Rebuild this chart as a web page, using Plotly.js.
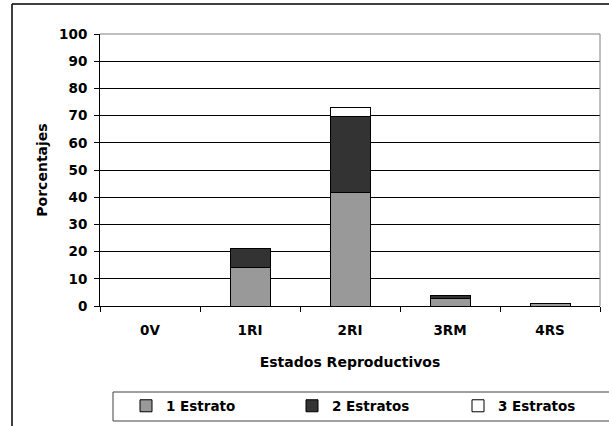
<!DOCTYPE html>
<html>
<head>
<meta charset="utf-8">
<script src="https://cdn.plot.ly/plotly-3.0.1.min.js"></script>
<style>
  html, body { margin: 0; padding: 0; background: #ffffff; }
  #chart { width: 609px; height: 426px; }
</style>
</head>
<body>
<div id="chart"></div>
<script>
// Data
const categories = ["0V", "1RI", "2RI", "3RM", "4RS"];
const estrato1 = [0, 14.3, 41.7, 2.8, 0.8];
const estrato2 = [0, 6.7, 27.9, 1.1, 0];
const estrato3 = [0, 0, 3.4, 0, 0];
const seriesNames = ["1 Estrato", "2 Estratos", "3 Estratos"];
const yTicks = [0, 10, 20, 30, 40, 50, 60, 70, 80, 90, 100];

const FONT = "DejaVu Sans, Arial, sans-serif";

// layout geometry helpers (pixel -> paper)
const L = 100, R = 9, T = 34, B = 120, W = 609, H = 426;
const PW = W - L - R, PH = H - T - B;
const px = x => (x - L) / PW;
const py = y => (H - B - y) / PH;

function barTrace(name, vals, color) {
  return {
    type: "bar",
    name: name,
    x: categories,
    y: vals,
    marker: { color: color, line: { color: "#000000", width: 1 } },
    hoverinfo: "skip"
  };
}

const data = [
  barTrace(seriesNames[0], estrato1, "#999999"),
  barTrace(seriesNames[1], estrato2, "#333333"),
  barTrace(seriesNames[2], estrato3, "#ffffff")
];

const layout = {
  width: W, height: H,
  margin: { l: L, r: R, t: T, b: B, pad: 0, autoexpand: false },
  paper_bgcolor: "#ffffff",
  plot_bgcolor: "#ffffff",
  barmode: "stack",
  bargap: 0.6,
  font: { family: FONT, size: 13.5, color: "#000000", weight: "bold" },
  xaxis: {
    type: "category",
    showline: true, linecolor: "#000000", linewidth: 1,
    ticks: "outside", ticklen: 5, tickcolor: "#000000", tickson: "boundaries",
    ticklabelstandoff: 12,
    tickfont: { family: FONT, size: 13.5, color: "#000000", weight: "bold" },
    showgrid: false, zeroline: false, automargin: false,
    title: { text: "Estados Reproductivos", standoff: 19,
             font: { family: FONT, size: 14, color: "#000000", weight: "bold" } }
  },
  yaxis: {
    range: [0, 100],
    tickvals: yTicks,
    ticktext: yTicks.map(String),
    showline: true, linecolor: "#000000", linewidth: 1,
    ticks: "outside", ticklen: 5, tickcolor: "#000000",
    ticklabelstandoff: 4,
    tickfont: { family: FONT, size: 13.5, color: "#000000", weight: "bold" },
    showgrid: true, gridcolor: "#000000", gridwidth: 1,
    zeroline: false, automargin: false,
    title: { text: "Porcentajes", standoff: 8,
             font: { family: FONT, size: 14, color: "#000000", weight: "bold" } }
  },
  showlegend: true,
  legend: {
    orientation: "h",
    x: px(126), xanchor: "left",
    y: py(406), yanchor: "middle",
    entrywidth: 121, entrywidthmode: "pixels",
    bgcolor: "rgba(0,0,0,0)", borderwidth: 0,
    traceorder: "normal",
    font: { family: FONT, size: 13.5, color: "#000000", weight: "bold" }
  },
  shapes: [
    // outer chart border (left and top)
    { type: "line", xref: "paper", yref: "paper", x0: px(12), x1: px(12), y0: py(440), y1: py(4),
      line: { color: "#000000", width: 1.5 }, layer: "above" },
    { type: "line", xref: "paper", yref: "paper", x0: px(12), x1: px(640), y0: py(4), y1: py(4),
      line: { color: "#000000", width: 1.5 }, layer: "above" },
    // plot area border (top and right) in gray
    { type: "line", xref: "paper", yref: "paper", x0: 0, x1: 1, y0: 1, y1: 1,
      line: { color: "#808080", width: 1 }, layer: "above" },
    { type: "line", xref: "paper", yref: "paper", x0: 1, x1: 1, y0: 0, y1: 1,
      line: { color: "#808080", width: 1 }, layer: "above" },
    // legend box
    { type: "rect", xref: "paper", yref: "paper", x0: px(113), x1: px(640), y0: py(421), y1: py(392),
      line: { color: "#404040", width: 1 }, fillcolor: "rgba(0,0,0,0)", layer: "below" }
  ]
};

Plotly.newPlot("chart", data, layout, { displayModeBar: false, staticPlot: true });
</script>
</body>
</html>
